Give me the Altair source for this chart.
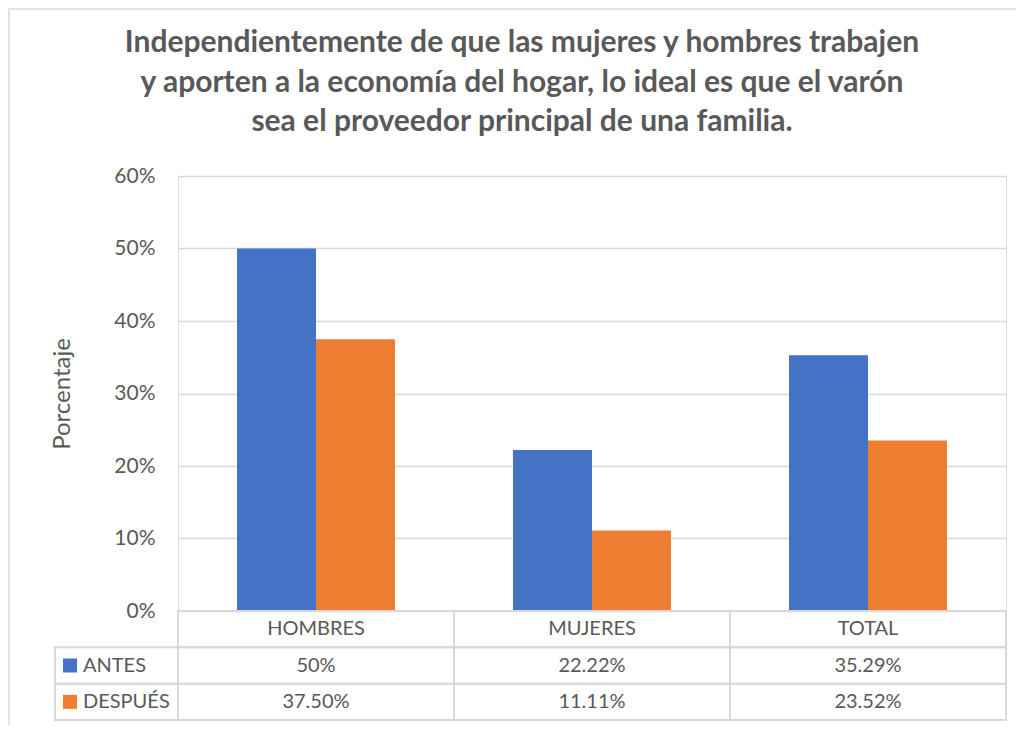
import altair as alt
import pandas as pd

categories = ["HOMBRES", "MUJERES", "TOTAL"]
series = ["ANTES", "DESPUÉS"]
antes = [0.50, 0.2222, 0.3529]
despues = [0.375, 0.1111, 0.2352]
antes_labels = ["50%", "22.22%", "35.29%"]
despues_labels = ["37.50%", "11.11%", "23.52%"]
rows = ["header", "ANTES", "DESPUÉS"]
y_ticks = [0, 0.1, 0.2, 0.3, 0.4, 0.5, 0.6]
title_lines = [
    "Independientemente de que las mujeres y hombres trabajen",
    "y aporten a la economía del hogar, lo ideal es que el varón",
    "sea el proveedor principal de una familia.",
]

BLUE = "#4472C4"
ORANGE = "#ED7D31"
TXT = "#595959"
GRID = "#D9D9D9"
FONT = "Lato"

W = 828
H_BARS = 435
H_ALL = 544

bars_df = pd.DataFrame(
    [{"cat": c, "series": "ANTES", "value": v} for c, v in zip(categories, antes)]
    + [{"cat": c, "series": "DESPUÉS", "value": v} for c, v in zip(categories, despues)]
)

table_rows = []
for c in categories:
    table_rows.append({"cat": c, "row": "header", "text": c})
for c, t in zip(categories, antes_labels):
    table_rows.append({"cat": c, "row": "ANTES", "text": t})
for c, t in zip(categories, despues_labels):
    table_rows.append({"cat": c, "row": "DESPUÉS", "text": t})
table_df = pd.DataFrame(table_rows)

label_df = pd.DataFrame([{"lbl": "k", "row": s, "series": s} for s in series])

color_scale = alt.Scale(domain=series, range=[BLUE, ORANGE])
x_cat = alt.Scale(domain=categories, range=[0, W], paddingInner=0, paddingOuter=0)
y_rows = alt.Scale(domain=rows, range=[H_BARS, H_ALL], paddingInner=0, paddingOuter=0)
x_lbl = alt.Scale(domain=["k"], range=[-123, 0], paddingInner=0, paddingOuter=0)

bars = alt.Chart(bars_df).mark_bar().encode(
    x=alt.X("cat:N", scale=x_cat, axis=None),
    xOffset=alt.XOffset("series:N", scale=alt.Scale(domain=series, paddingInner=0, paddingOuter=0.747)),
    y=alt.Y(
        "value:Q",
        scale=alt.Scale(domain=[0, 0.6], range=[H_BARS, 0], nice=False),
        axis=alt.Axis(
            values=y_ticks,
            format=".0%",
            title="Porcentaje",
            titleFont=FONT,
            titleFontSize=24,
            titleFontWeight="normal",
            titleColor=TXT,
            titlePadding=39,
            labelFont=FONT,
            labelFontSize=21,
            labelColor=TXT,
            labelPadding=23,
            ticks=False,
            tickSize=0,
            domain=False,
            grid=True,
            gridColor=GRID,
            gridWidth=1.5,
        ),
    ),
    color=alt.Color("series:N", scale=color_scale, legend=None),
)

cells = alt.Chart(table_df).mark_rect(fillOpacity=0, stroke=GRID, strokeWidth=2).encode(
    x=alt.X("cat:N", scale=x_cat, axis=None),
    y=alt.Y("row:N", scale=y_rows, axis=None),
)

cell_text = alt.Chart(table_df).mark_text(
    font=FONT, fontSize=20, color=TXT, baseline="middle", align="center"
).encode(
    x=alt.X("cat:N", scale=x_cat, axis=None),
    y=alt.Y("row:N", scale=y_rows, axis=None),
    text="text:N",
)

lbl_cells = alt.Chart(label_df).mark_rect(fillOpacity=0, stroke=GRID, strokeWidth=2).encode(
    x=alt.X("lbl:N", scale=x_lbl, axis=None),
    y=alt.Y("row:N", scale=y_rows, axis=None),
)

lbl_keys = alt.Chart(label_df).mark_square(size=196, opacity=1, xOffset=-46.5).encode(
    x=alt.X("lbl:N", scale=x_lbl, axis=None),
    y=alt.Y("row:N", scale=y_rows, axis=None),
    color=alt.Color("series:N", scale=color_scale, legend=None),
)

lbl_text = alt.Chart(label_df).mark_text(
    font=FONT, fontSize=20, color=TXT, baseline="middle", align="left", dx=-33.5
).encode(
    x=alt.X("lbl:N", scale=x_lbl, axis=None),
    y=alt.Y("row:N", scale=y_rows, axis=None),
    text="series:N",
)

border = alt.Chart(pd.DataFrame({"a": [0]})).mark_rect(
    fillOpacity=0, stroke=GRID, strokeWidth=1.5
).encode(
    x=alt.value(-169), x2=alt.value(W + 60), y=alt.value(-167), y2=alt.value(H_ALL + 40)
)

chart = (
    alt.layer(border, bars, cells, cell_text, lbl_cells, lbl_keys, lbl_text)
    .resolve_scale(x="independent", y="independent")
    .properties(
        width=W,
        height=H_ALL,
        autosize=alt.AutoSizeParams(type="none"),
        padding={"left": 170, "top": 168, "right": 10, "bottom": 5},
        title=alt.TitleParams(
            text=title_lines,
            font=FONT,
            fontSize=30,
            fontWeight="bold",
            color=TXT,
            lineHeight=39.5,
            anchor="middle",
            frame="group",
            dx=-70,
            offset=-129,
        ),
    )
    .configure_view(stroke=None)
    .configure(background="white")
)

chart.save("out.html", embed_options={"renderer": "svg", "actions": False})
